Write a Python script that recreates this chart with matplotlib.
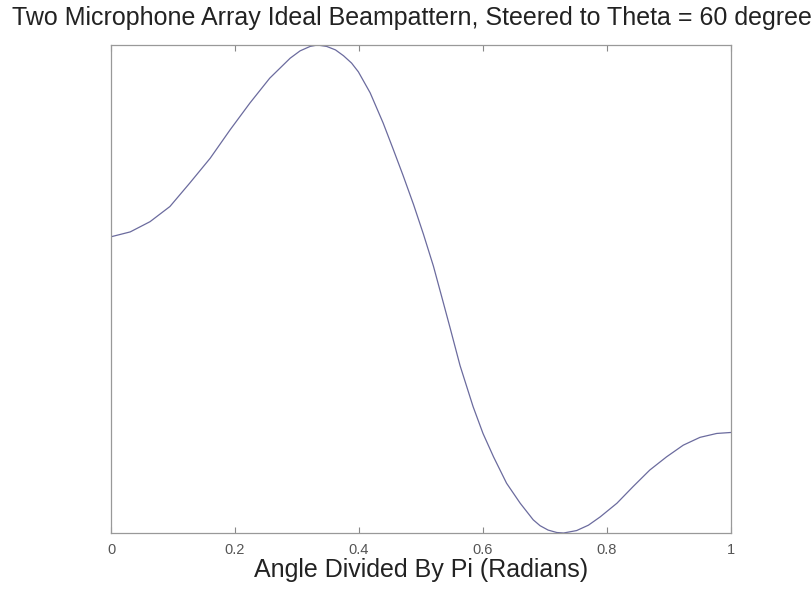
import matplotlib
matplotlib.use("Agg")
import matplotlib.pyplot as plt

# Curve (angle / pi, normalised beampattern)
angle = [0.000, 0.031, 0.063, 0.095, 0.127, 0.160, 0.192, 0.224, 0.256, 0.289,
         0.305, 0.321, 0.333, 0.348, 0.362, 0.375, 0.388, 0.399, 0.418, 0.439,
         0.455, 0.471, 0.488, 0.504, 0.520, 0.536, 0.547, 0.563, 0.584, 0.600,
         0.617, 0.638, 0.660, 0.681, 0.692, 0.705, 0.719, 0.730, 0.751, 0.770,
         0.789, 0.816, 0.842, 0.869, 0.896, 0.923, 0.950, 0.977, 1.000]
response = [0.607, 0.617, 0.638, 0.669, 0.717, 0.768, 0.826, 0.881, 0.932, 0.973,
            0.988, 0.997, 1.000, 0.997, 0.990, 0.978, 0.963, 0.945, 0.902, 0.840,
            0.787, 0.733, 0.673, 0.612, 0.547, 0.472, 0.420, 0.343, 0.259, 0.204,
            0.156, 0.102, 0.061, 0.027, 0.015, 0.006, 0.001, 0.000, 0.005, 0.016,
            0.033, 0.061, 0.095, 0.129, 0.156, 0.180, 0.196, 0.204, 0.206]
xticks = [0, 0.2, 0.4, 0.6, 0.8, 1]
xticklabels = ["0", "0.2", "0.4", "0.6", "0.8", "1"]

plt.rcParams['font.family'] = ['Liberation Sans', 'DejaVu Sans']

fig = plt.figure(figsize=(8.11, 5.93), dpi=100)
ax = fig.add_axes([111/811, 60/593, 620/811, 488/593])
ax.plot(angle, response, color='#6b6b9e', linewidth=0.9)
ax.set_xlim(0, 1)
ax.set_ylim(0, 1)
ax.set_xticks(xticks)
ax.set_xticklabels(xticklabels, color='#555555', fontsize=10.5)
ax.set_yticks([])
ax.tick_params(axis='x', direction='in', top=True, length=4, color='#888888', pad=7)
for s in ax.spines.values():
    s.set_color('#999999')
    s.set_linewidth(0.9)
ax.set_xlabel("Angle Divided By Pi (Radians)", fontsize=18, color='#222222', labelpad=1)
fig.text(418/811, 1 - 18/593, "Two Microphone Array Ideal Beampattern, Steered to Theta = 60 degrees",
         ha='center', va='center', fontsize=18, color='#222222')
fig.savefig("out.png", dpi=100)
